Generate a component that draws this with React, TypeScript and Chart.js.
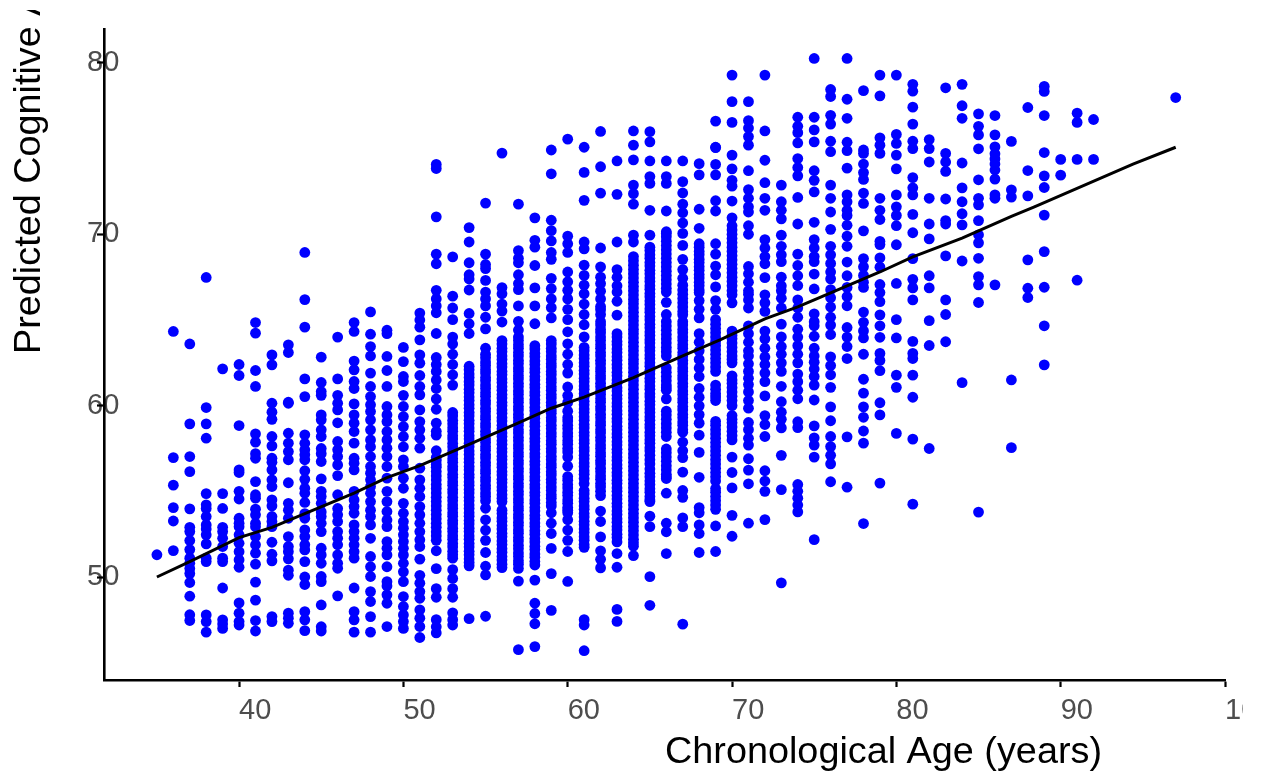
import React, { useEffect, useRef } from "react";
import { Chart, registerables } from "chart.js";

Chart.register(...registerables);

const xTitle = "Chronological Age (years)";
const yTitle = "Predicted Cognitive Age (years)";
const xTickValues = [40, 50, 60, 70, 80, 90, 100];
const yTickValues = [50, 60, 70, 80];

const fitX = [35, 37, 40, 42, 44, 47, 49, 51, 54, 57, 59, 61, 64, 67, 69.3, 72, 74, 76, 79, 81, 84, 87, 88.4, 94.4, 97];
const fitY = [50, 50.9, 52.3, 52.9, 53.7, 54.9, 55.8, 56.5, 57.74, 59, 59.85, 60.5, 61.64, 62.9, 63.85, 65.06, 65.76, 66.58, 67.8, 68.68, 69.77, 71.05, 71.6, 74.1, 75.08];

const y35 = [51.3];
const y36 = [64.33, 56.97, 55.36, 54.05, 53.27, 51.54];
const y37 = [63.6, 58.94, 57.03, 56.15, 53.98, 52.9, 52.65, 52.13, 51.6, 51.1, 50.8, 50.5, 50.2, 49.68, 48.88, 47.8, 47.46];
const y38 = [67.48, 59.89, 58.94, 58.1, 54.87, 54.21, 54.0, 53.53, 53.04, 52.8, 52.46, 51.93, 51.1, 50.9, 47.79, 47.4, 46.78];
const y39 = [62.15, 54.87, 54.0, 52.9, 52.65, 52.26, 51.78, 51.1, 50.9, 49.36, 47.5, 47.26, 47.0];
const y40 = [62.4, 61.76, 58.84, 56.25, 56.1, 55.0, 54.55, 53.43, 53.14, 52.94, 52.46, 51.97, 51.48, 51, 50.57, 48.49, 47.89, 47.4, 47.2];
const y41 = [64.85, 64.23, 62.05, 61.12, 58.35, 57.87, 57.2, 56.93, 55.57, 54.8, 54.6, 53.96, 53.63, 53.14, 52.94, 52.36, 51.88, 51.39, 50.75, 49.7, 48.65, 47.46, 46.85];
const y42 = [62.96, 62.38, 60.14, 59.62, 59.2, 58.2, 57.65, 56.93, 56.7, 56.25, 55.67, 55.28, 54.5, 54.15, 53.53, 53.24, 52.94, 52.03, 51.33, 50.94, 47.69, 47.4];
const y43 = [63.55, 63.1, 60.14, 60.2, 58.39, 57.81, 57.32, 56.84, 55.5, 54.3, 53.9, 53.43, 52.36, 51.78, 51.48, 51.06, 50.4, 50.1, 47.89, 47.6, 47.3];
const y44 = [68.94, 66.19, 64.58, 61.56, 60.53, 58.3, 57.8, 57.42, 57.13, 56.84, 56.2, 55.7, 55.18, 54.89, 54.35, 53.7, 53.43, 52.75, 52.36, 51.88, 51.58, 50.9, 50.0, 49.56, 47.98, 47.5, 46.87];
const y45 = [62.83, 61.35, 60.82, 60.6, 59.46, 59.17, 58.59, 58.2, 57.5, 57.2, 56.74, 55.73, 55, 54.7, 54.3, 53.8, 53.53, 53.14, 52.65, 51.68, 51.29, 50.8, 50.03, 49.73, 48.37, 47.1, 46.85];
const y46 = [64.0, 61.56, 60.6, 60.14, 59.75, 59.0, 57.91, 57.42, 57.03, 56.54, 55.92, 54.8, 54.0, 53.63, 53.24, 52.65, 52.26, 51.88, 51.29, 50.8, 50.51, 48.9];
const y47 = [64.85, 64.33, 62.6, 62.09, 61.41, 61.0, 60.1, 59.46, 58.98, 58.49, 57.81, 56.93, 56.64, 56.25, 55, 54.5, 54.11, 53.72, 53.04, 52.65, 52.26, 51.88, 51.48, 51.1, 49.36, 47.98, 47.5, 46.78];
const y48 = [65.47, 64.17, 63.45, 62.9, 61.9, 61.12, 60.53, 60.05, 59.66, 59.17, 58.59, 58, 57.6, 57.03, 56.45, 56.06, 55.67, 55.28, 54.89, 54.4, 53.9, 53.53, 53.04, 52.26, 51.2, 50.6, 50.03, 49.15, 48.57, 47.69, 46.78];
const y49 = [64.4, 64.2, 62.87, 62.05, 61.12, 59.95, 59.46, 59.07, 58.49, 58, 57.52, 57.03, 56.45, 55.77, 55, 54.4, 53.82, 53.33, 52.94, 52.07, 51.68, 51.29, 50.6, 49.73, 49.48, 48.96, 48.47, 47.11];
const y50 = [63.4, 62.57, 61.7, 61.41, 60.6, 59.95, 59.36, 58.78, 58.2, 57.6, 56.84, 56.45, 55.77, 55.18, 54.3, 53.72, 53.24, 52.85, 52.46, 52.07, 51.68, 51.29, 50.8, 50.3, 49.73, 48.86, 48.28, 47.79, 47.4, 47.0];
const y51 = [65.4, 65.0, 64.58, 63.84, 62.96, 62.48, 61.76, 61.12, 60.63, 59.75, 59.07, 58.59, 58.1, 57.52, 56.35, 55.67, 55.18, 54.7, 54.11, 53.63, 53.14, 52.65, 52.17, 51.78, 51.04, 50.1, 49.64, 49.15, 48.76, 48.08, 47.6, 47.11, 46.47];
const y52 = [74.08, 73.84, 71.02, 68.84, 68.28, 66.73, 66.23, 65.82, 65.42, 64.21, 62.81, 62.4, 62.0, 61.5, 61.0, 60.39, 59.79, 58.98, 58.5, 58.28, 57.37, 56.97, 56.56, 56.16, 55.66, 55.16, 54.65, 54.15, 53.65, 53.14, 52.64, 52.14, 51.53, 50.49, 49.32, 48.82, 47.51, 47.1, 46.74];
const y53 = [68.68, 66.39, 65.7, 65.02, 64.0, 63.6, 63.0, 62.4, 61.8, 61.2, 59.6, 59.15, 58.7, 58.25, 57.8, 57.35, 56.9, 56.45, 56.0, 55.55, 55.1, 54.65, 54.2, 53.75, 53.3, 52.85, 52.4, 51.95, 51.5, 51.1, 50.43, 49.92, 49.32, 48.82, 47.91, 47.51, 47.2];
const y54 = [70.39, 69.55, 68.34, 67.64, 67.39, 66.75, 65.38, 64.78, 64.21, 62.3, 61.85, 61.4, 60.95, 60.5, 60.05, 59.6, 59.15, 58.7, 58.25, 57.8, 57.35, 56.9, 56.45, 56.0, 55.55, 55.1, 54.65, 54.2, 53.75, 53.3, 52.85, 52.4, 51.95, 51.5, 51.05, 50.65, 47.57];
const y55 = [71.82, 68.84, 68.24, 68.0, 67.31, 66.63, 66.23, 65.82, 65.16, 64.48, 63.35, 63, 62.55, 62.1, 61.65, 61.2, 60.75, 60.3, 59.85, 59.4, 58.95, 58.5, 58.05, 57.6, 57.15, 56.7, 56.25, 55.8, 55.35, 54.9, 54.45, 54.01, 53.34, 52.74, 52.14, 51.43, 50.63, 50.12, 47.71];
const y56 = [74.74, 66.89, 66.53, 65.93, 65.52, 64.88, 63.8, 63.35, 62.9, 62.45, 62, 61.55, 61.1, 60.65, 60.2, 59.75, 59.3, 58.85, 58.4, 57.95, 57.5, 57.05, 56.6, 56.15, 55.7, 55.25, 54.8, 54.4, 53.9, 53.45, 53, 52.55, 52.1, 51.65, 51.2, 50.75, 50.55];
const y57 = [71.76, 69.05, 68.6, 68.34, 67.64, 67.13, 66.77, 65.82, 64.92, 64.41, 64, 63.55, 63.1, 62.65, 62.2, 61.75, 61.3, 60.85, 60.4, 59.95, 59.5, 59.05, 58.6, 58.15, 57.7, 57.25, 56.8, 56.35, 55.9, 55.45, 55, 54.55, 54.1, 53.65, 53.2, 52.75, 52.3, 51.85, 51.4, 50.95, 50.5, 49.76, 45.76];
const y58 = [70.96, 69.65, 69.25, 68.18, 66.87, 65.82, 64.78, 63.5, 63.05, 62.6, 62.15, 61.7, 61.25, 60.8, 60.35, 59.9, 59.45, 59, 58.55, 58.1, 57.65, 57.2, 56.75, 56.3, 55.85, 55.4, 54.95, 54.5, 54.05, 53.6, 53.15, 52.7, 52.25, 51.8, 51.35, 50.9, 50.7, 49.82, 48.47, 47.87, 47.27, 45.94];
const y59 = [74.92, 73.53, 70.82, 70.21, 69.61, 68.94, 68.54, 67.43, 66.83, 66.23, 65.72, 65.12, 63.8, 63.35, 62.9, 62.45, 62, 61.55, 61.1, 60.65, 60.2, 59.75, 59.3, 58.85, 58.4, 57.95, 57.5, 57.05, 56.6, 56.15, 55.7, 55.25, 54.8, 54.35, 54.15, 53.75, 53.14, 52.54, 51.67, 50.2, 48.05];
const y60 = [75.55, 69.89, 69.45, 68.94, 67.8, 67.23, 66.73, 66.23, 65.62, 65.02, 64.31, 63.61, 63.0, 62.4, 61.9, 61.09, 60.59, 60.19, 59.68, 59.3, 58.85, 58.4, 57.95, 57.5, 57.0, 56.47, 55.86, 55.4, 54.95, 54.5, 54.05, 53.75, 53.34, 52.74, 52.14, 51.49, 49.74];
const y61 = [75.08, 73.61, 71.98, 69.55, 69.15, 68.2, 67.6, 67.03, 66.53, 65.93, 65.32, 64.72, 64.01, 63.4, 62.95, 62.5, 62.05, 61.6, 61.15, 60.7, 60.25, 59.8, 59.35, 58.9, 58.45, 58, 57.55, 57.1, 56.65, 56.2, 55.75, 55.46, 55.05, 54.6, 54.15, 53.7, 53.25, 52.8, 52.35, 51.9, 51.73, 47.51, 47.2, 45.7];
const y62 = [76.0, 73.94, 72.4, 69.2, 68.1, 67.5, 67.13, 66.68, 66.23, 65.78, 65.6, 65.32, 64.9, 64.45, 64, 63.55, 63.1, 62.65, 62.2, 61.75, 61.3, 60.85, 60.4, 59.95, 59.5, 59.05, 58.6, 58.15, 57.7, 57.25, 56.8, 56.35, 55.9, 55.45, 55, 54.75, 53.85, 53.24, 52.34, 51.53, 51.03, 50.53];
const y63 = [74.28, 72.33, 69.55, 67.94, 67.49, 67.0, 66.63, 66.09, 65.28, 64.2, 63.75, 63.3, 62.85, 62.4, 61.95, 61.5, 61.05, 60.6, 60.15, 59.7, 59.25, 58.8, 58.35, 57.9, 57.45, 57, 56.55, 56.1, 55.65, 55.2, 54.75, 54.3, 53.85, 53.4, 52.95, 52.5, 52.05, 51.37, 50.57, 48.11, 47.41];
const y64 = [76.03, 75.2, 74.34, 72.87, 72.37, 71.76, 69.95, 69.55, 68.7, 68.2, 67.7, 67.2, 66.7, 66.2, 65.7, 65.2, 64.7, 64.2, 63.7, 63.2, 62.7, 62.2, 61.7, 61.2, 60.7, 60.2, 59.7, 59.2, 58.7, 58.2, 57.7, 57.2, 56.7, 56.2, 55.7, 55.2, 54.7, 54.2, 53.7, 53.2, 52.7, 52.2, 51.8, 51.25];
const y65 = [75.99, 75.39, 74.28, 73.37, 72.97, 71.4, 69.95, 69.25, 68.8, 68.35, 67.9, 67.45, 67, 66.55, 66.1, 65.65, 65.2, 64.75, 64.3, 63.85, 63.4, 62.95, 62.5, 62.05, 61.6, 61.15, 60.7, 60.25, 59.8, 59.35, 58.9, 58.45, 58, 57.55, 57.1, 56.6, 56.3, 55.85, 55.4, 54.95, 54.5, 54.4, 53.55, 52.94, 50.02, 48.35];
const y66 = [74.28, 73.37, 72.97, 71.36, 70.15, 70.05, 69.6, 69.1, 68.6, 68.1, 67.6, 67.1, 66.63, 66.03, 65.32, 64.9, 64.4, 63.9, 63.4, 62.9, 62.2, 61.7, 61.2, 60.9, 60.39, 59.68, 59.2, 58.7, 58.2, 57.47, 57, 56.5, 56, 55.75, 54.89, 53.14, 52.64, 51.37];
const y67 = [74.28, 73.07, 72.41, 71.76, 71.26, 70.66, 70.05, 69.35, 68.54, 67.94, 67.43, 67.03, 66.5, 66, 65.5, 65.3, 64.9, 64.45, 64, 63.55, 63.1, 62.65, 62.2, 61.75, 61.3, 60.85, 60.4, 59.95, 59.5, 59.05, 58.6, 58.45, 57.87, 57.37, 56.97, 56.12, 55.05, 54.65, 53.45, 52.94, 47.25];
const y68 = [74.12, 73.47, 71.46, 70.35, 69.45, 69, 68.55, 68.1, 67.65, 67.2, 66.75, 66.6, 66.13, 65.62, 65.12, 64.2, 63.7, 63.2, 62.7, 62.2, 61.7, 61, 60.49, 59.99, 59.48, 58.98, 58.28, 57.27, 55.82, 54.05, 53.75, 53.04, 52.54, 51.43];
const y69 = [76.6, 75.06, 75.08, 74.08, 73.47, 71.96, 71.36, 69.45, 68.84, 68.14, 67.64, 66.93, 66.13, 65.62, 65.02, 64.5, 64, 63.5, 63, 62.5, 62.0, 61.2, 60.7, 60.3, 59.08, 58.6, 58.1, 57.6, 57.1, 56.6, 56.1, 55.6, 55.16, 54.7, 54.2, 53.95, 52.98, 51.49];
const y70 = [79.29, 77.74, 76.53, 74.62, 73.82, 73.15, 72.81, 71.94, 70.96, 70.5, 70, 69.5, 69, 68.5, 68, 67.5, 67, 66.7, 66.47, 66.0, 64.35, 63.9, 63.4, 62.9, 62.5, 61.74, 61.3, 60.8, 60.3, 60.0, 59.42, 59, 58.5, 58, 57.0, 56.1, 55.2, 53.6, 52.38];
const y71 = [77.74, 76.63, 76.2, 75.7, 75.2, 73.71, 72.61, 72.1, 71.6, 71.3, 70.5, 70.0, 68.12, 67.7, 67.2, 66.7, 66.5, 66.17, 65.7, 64.66, 64.2, 63.7, 63.2, 62.9, 62.44, 62, 61.6, 61.23, 60.8, 60.3, 59.85, 59.02, 58.6, 58.1, 57.7, 56.9, 56.24, 55.44, 53.14];
const y72 = [79.29, 76.03, 74.32, 73.01, 72.1, 71.4, 69.69, 69.2, 68.7, 68.28, 67.47, 66.47, 66, 65.5, 64.35, 63.9, 63.35, 62.84, 62.4, 61.9, 61.4, 60.57, 59.42, 58.9, 58.2, 56.2, 55.6, 55.0, 53.35];
const y73 = [72.87, 71.9, 71.4, 70.9, 69.95, 69.3, 68.8, 68.4, 67.5, 67, 66.7, 66.27, 65.7, 64.76, 64.01, 63.45, 63, 62.5, 62, 61.13, 60.23, 59.62, 59.2, 58.7, 57.1, 55.1, 49.66];
const y74 = [76.83, 76.3, 75.93, 75.33, 74.42, 73.9, 73.41, 72.15, 70.6, 68.84, 68.18, 67.58, 67.01, 66.17, 65.7, 65.16, 64.46, 64, 63.5, 63, 62.5, 61.84, 61.4, 60.9, 60.4, 59.06, 58.72, 55.4, 55, 54.6, 54.2, 53.8];
const y75 = [80.26, 76.83, 76.09, 75.39, 73.71, 73.15, 72.47, 70.7, 69.69, 69.2, 68.7, 68.4, 67.68, 66.81, 65.36, 64.9, 64.66, 64.05, 63.35, 62.9, 62.54, 62.14, 61.7, 61.2, 60.33, 58.82, 58.12, 57.7, 57.0, 52.18];
const y76 = [78.45, 78.04, 76.94, 76.43, 75.43, 74.82, 72.87, 72.1, 71.3, 70.29, 69.3, 68.8, 68.3, 67.8, 67.4, 66.77, 66.3, 65.76, 65.16, 64.7, 64.15, 62.85, 62.34, 61.8, 61.07, 59.93, 59.12, 58.2, 57.61, 57.1, 56.6, 55.56];
const y77 = [80.26, 77.88, 76.77, 75.37, 74.88, 73.86, 72.3, 71.9, 71.4, 71.1, 70.53, 69.89, 69.3, 68.38, 67.58, 66.9, 66.37, 65.83, 64.56, 64.0, 63.45, 62.75, 58.18, 55.24];
const y78 = [78.38, 74.92, 74.72, 74.1, 73.6, 73.2, 72.4, 71.8, 70.2, 68.58, 68.1, 67.6, 67.2, 66.9, 65.46, 64.86, 64.36, 63.95, 63, 61.54, 60.73, 59.93, 59.32, 58.52, 57.81, 53.12];
const y79 = [79.29, 78.08, 75.63, 75.2, 74.72, 72.1, 71.4, 70.86, 69.59, 69.4, 68.62, 68.08, 67.07, 66.6, 66.07, 65.3, 64.66, 63.99, 63.05, 62.64, 62.04, 60.17, 59.46, 55.48];
const y80 = [79.29, 75.83, 75.3, 74.62, 73.82, 72.3, 71.6, 71.1, 70.5, 69.39, 67.13, 65.02, 63.95, 61.78, 61.07, 58.38];
const y81 = [78.75, 78.35, 77.42, 76.43, 75.43, 75.0, 73.31, 72.71, 72.3, 71.16, 70.09, 68.58, 67.37, 66.87, 66.17, 63.75, 63.05, 62.75, 61.78, 60.49, 58.05, 54.25];
const y82 = [75.53, 75.0, 74.22, 72.1, 70.6, 69.73, 67.58, 66.87, 64.96, 63.51, 57.5];
const y83 = [78.55, 74.72, 74.22, 73.67, 72.06, 70.8, 70.6, 68.74, 66.17, 65.32, 63.73];
const y84 = [78.75, 77.5, 76.77, 74.16, 72.71, 71.9, 71.2, 70.55, 68.44, 61.34];
const y85 = [77.03, 76.3, 75.8, 74.99, 73.18, 72.1, 71.72, 70.8, 69.97, 69.5, 68.6, 67.53, 67.05, 66.02, 53.79];
const y86 = [76.93, 75.8, 75.1, 74.7, 74.4, 74.1, 73.75, 73.22, 72.3, 72.1, 67.05];
const y87 = [75.42, 72.59, 72.17, 61.5, 57.55];
const y88 = [77.4, 73.72, 72.24, 68.51, 66.85, 66.31];
const y89 = [78.63, 78.34, 76.93, 74.77, 73.41, 72.73, 71.12, 68.99, 66.91, 64.66, 62.38];
const y90 = [74.37, 73.45];
const y91 = [77.07, 76.53, 74.37, 67.32];
const y92 = [76.7, 74.37];
const y97 = [77.98];

const m52 = [56.8, 56.4, 55.9, 55.4, 54.9, 54.4, 53.9, 53.4, 52.9, 52.4];
const m53 = [59.4, 58.95, 58.5, 58.05, 57.6, 57.15, 56.7, 56.25, 55.8, 55.35, 54.9, 54.45, 54, 53.55, 53.1, 52.65, 52.2, 51.75, 51.3];
const m54 = [62.1, 61.65, 61.2, 60.75, 60.3, 59.85, 59.4, 58.95, 58.5, 58.05, 57.6, 57.15, 56.7, 56.25, 55.8, 55.35, 54.9, 54.45, 54, 53.55, 53.1, 52.65, 52.2, 51.75, 51.3, 50.85];
const m55 = [62.8, 62.35, 61.9, 61.45, 61, 60.55, 60.1, 59.65, 59.2, 58.75, 58.3, 57.85, 57.4, 56.95, 56.5, 56.05, 55.6, 55.15, 54.7];
const m56 = [63.6, 63.15, 62.7, 62.25, 61.8, 61.35, 60.9, 60.45, 60, 59.55, 59.1, 58.65, 58.2, 57.75, 57.3, 56.85, 56.4, 55.95, 55.5, 55.05, 54.6, 53.7, 53.25, 52.8, 52.35, 51.9, 51.45, 51];
const m57 = [63.8, 63.35, 62.9, 62.45, 62, 61.55, 61.1, 60.65, 60.2, 59.75, 59.3, 58.85, 58.4, 57.95, 57.5, 57.05, 56.6, 56.15, 55.7, 55.25, 54.8, 54.35, 53.9, 53.45, 53, 52.55, 52.1, 51.65, 51.2, 50.75];
const m58 = [63.3, 62.85, 62.4, 61.95, 61.5, 61.05, 60.6, 60.15, 59.7, 59.25, 58.8, 58.35, 57.9, 57.45, 57, 56.55, 56.1, 55.65, 55.2, 54.75, 54.3, 53.85, 53.4, 52.95, 52.5, 52.05, 51.6, 51.15];
const m59 = [63.6, 63.15, 62.7, 62.25, 61.8, 61.35, 60.9, 60.45, 60, 59.55, 59.1, 58.65, 58.2, 57.75, 57.3, 56.85, 56.4, 55.95, 55.5, 55.05, 54.6];
const m60 = [59.1, 58.65, 58.2, 57.75, 57.3, 55.65, 55.2, 54.75, 54.3, 53.9];
const m61 = [63.2, 62.75, 62.3, 61.85, 61.4, 60.95, 60.5, 60.05, 59.6, 59.15, 58.7, 58.25, 57.8, 57.35, 56.9, 56.45, 56, 54.85, 54.4, 53.95, 53.5, 53.05, 52.6, 52.15];
const m62 = [64.7, 64.25, 63.8, 63.35, 62.9, 62.45, 62, 61.55, 61.1, 60.65, 60.2, 59.75, 59.3, 58.85, 58.4, 57.95, 57.5, 57.05, 56.6, 56.15, 55.7, 55.25];
const m63 = [64, 63.55, 63.1, 62.65, 62.2, 61.75, 61.3, 60.85, 60.4, 59.95, 59.5, 59.05, 58.6, 58.15, 57.7, 57.25, 56.8, 56.35, 55.9, 55.45, 55, 54.55, 54.1, 53.65, 53.2, 52.75, 52.3];
const m64 = [68.45, 67.95, 67.45, 66.95, 66.45, 65.95, 65.45, 64.95, 64.45, 63.95, 63.45, 62.95, 62.45, 61.95, 61.45, 60.95, 60.45, 59.95, 59.45, 58.95, 58.45, 57.95, 57.45, 56.95, 56.45, 55.95, 55.45, 54.95, 54.45, 53.95, 53.45, 52.95, 52.45, 52];
const m65 = [69.05, 68.6, 68.15, 67.7, 67.25, 66.8, 66.35, 65.9, 65.45, 65, 64.55, 64.1, 63.65, 63.2, 62.75, 62.3, 61.85, 61.4, 60.95, 60.5, 60.05, 59.6, 59.15, 58.7, 58.25, 57.8, 57.35, 56.85, 56.05, 55.6, 55.15, 54.7];
const m66 = [69.85, 69.35, 68.85, 68.35, 67.85, 67.35, 66.85, 64.65, 64.15, 63.65, 63.15, 61.95, 61.45, 61.05, 59.45, 58.95, 58.45, 57.25, 56.75, 56.25, 55.85];
const m67 = [66.75, 66.25, 65.75, 64.7, 64.25, 63.8, 63.35, 62.9, 62.45, 62, 61.55, 61.1, 60.65, 60.2, 59.75, 59.3, 58.85];
const m68 = [69.25, 68.8, 68.35, 67.9, 67.45, 67];
const m69 = [64.75, 64.25, 63.75, 63.25, 62.75, 62.25, 60.95, 60.5, 58.85, 58.35, 57.85, 57.35, 56.85, 56.35, 55.85, 54.95, 54.45];
const m70 = [70.25, 69.75, 69.25, 68.75, 68.25, 67.75, 67.25, 64.1, 63.65, 63.15, 62.7, 61.5, 61.05, 60.55, 59.2, 58.75, 58.25];

const ages = [35, 36, 37, 38, 39, 40, 41, 42, 43, 44, 45, 46, 47, 48, 49, 50, 51, 52, 53, 54, 55, 56, 57, 58, 59, 60, 61, 62, 63, 64, 65, 66, 67, 68, 69, 70, 71, 72, 73, 74, 75, 76, 77, 78, 79, 80, 81, 82, 83, 84, 85, 86, 87, 88, 89, 90, 91, 92, 97];
const ageValues = [y35, y36, y37, y38, y39, y40, y41, y42, y43, y44, y45, y46, y47, y48, y49, y50, y51, y52, y53, y54, y55, y56, y57, y58, y59, y60, y61, y62, y63, y64, y65, y66, y67, y68, y69, y70, y71, y72, y73, y74, y75, y76, y77, y78, y79, y80, y81, y82, y83, y84, y85, y86, y87, y88, y89, y90, y91, y92, y97];
const denseAges = [52, 53, 54, 55, 56, 57, 58, 59, 60, 61, 62, 63, 64, 65, 66, 67, 68, 69, 70];
const denseValues = [m52, m53, m54, m55, m56, m57, m58, m59, m60, m61, m62, m63, m64, m65, m66, m67, m68, m69, m70];

const FONT = '"Liberation Sans", Arial, sans-serif';

const titlesPlugin = {
  id: "titles",
  afterDraw(chart: any) {
    const { ctx } = chart;
    ctx.save();
    ctx.fillStyle = "#000";
    ctx.font = `37.8px ${FONT}`;
    ctx.textAlign = "left";
    ctx.textBaseline = "alphabetic";
    ctx.fillText(xTitle, 665, 763);
    ctx.beginPath();
    ctx.rect(0, 10, 200, 764);
    ctx.clip();
    ctx.translate(40, 354);
    ctx.rotate(-Math.PI / 2);
    ctx.fillText(yTitle, 0, 0);
    ctx.restore();
  },
};

export default function App() {
  const ref = useRef<HTMLCanvasElement>(null);
  useEffect(() => {
    const points = [
      ...ages.flatMap((a, i) => ageValues[i].map((y) => ({ x: a, y }))),
      ...denseAges.flatMap((a, i) => denseValues[i].map((y) => ({ x: a, y }))),
    ];
    const fit = fitX.map((x, i) => ({ x, y: fitY[i] }));
    const chart = new Chart(ref.current!, {
      type: "scatter",
      data: {
        datasets: [
          {
            type: "line",
            data: fit,
            borderColor: "#000",
            borderWidth: 3,
            pointRadius: 0,
            fill: false,
            tension: 0,
            order: 0,
          },
          {
            data: points,
            backgroundColor: "#0000ff",
            borderWidth: 0,
            pointRadius: 5.4,
            order: 1,
          },
        ],
      } as any,
      options: {
        animation: false,
        responsive: false,
        devicePixelRatio: 1,
        layout: { autoPadding: false, padding: { top: 29, right: 18, left: 0, bottom: 0 } },
        plugins: { legend: { display: false }, tooltip: { enabled: false }, title: { display: false } },
        scales: {
          x: {
            type: "linear",
            min: 31.78,
            max: 100,
            afterFit(s: any) { s.height = 94; s.paddingRight = 0; s.paddingLeft = 0; },
            afterBuildTicks(s: any) { s.ticks = xTickValues.map((value) => ({ value })); },
            grid: { drawOnChartArea: false, tickLength: 7, tickColor: "#000", tickWidth: 2.2, z: 0 },
            border: { display: true, color: "#000", width: 2.6, z: 0 },
            ticks: { z: -2, align: "start", autoSkip: false, maxRotation: 0, padding: 7, color: "#4d4d4d", font: { family: FONT, size: 29 } },
          },
          y: {
            type: "linear",
            min: 43.99,
            max: 81.98,
            afterFit(s: any) { s.width = 104; s.paddingTop = 0; s.paddingBottom = 0; },
            afterBuildTicks(s: any) { s.ticks = yTickValues.map((value) => ({ value })); },
            grid: { drawOnChartArea: false, tickLength: 7, tickColor: "#000", tickWidth: 2.2, z: 0 },
            border: { display: true, color: "#000", width: 2.6, z: 0 },
            ticks: { z: -2, mirror: true, padding: -17, color: "#4d4d4d", font: { family: FONT, size: 29 } },
          },
        },
      } as any,
      plugins: [titlesPlugin],
    });
    return () => chart.destroy();
  }, []);
  return (
    <canvas
      ref={ref}
      width={1243}
      height={774}
      style={{ position: "fixed", left: 0, top: 0, width: 1243, height: 774, display: "block" }}
    />
  );
}
